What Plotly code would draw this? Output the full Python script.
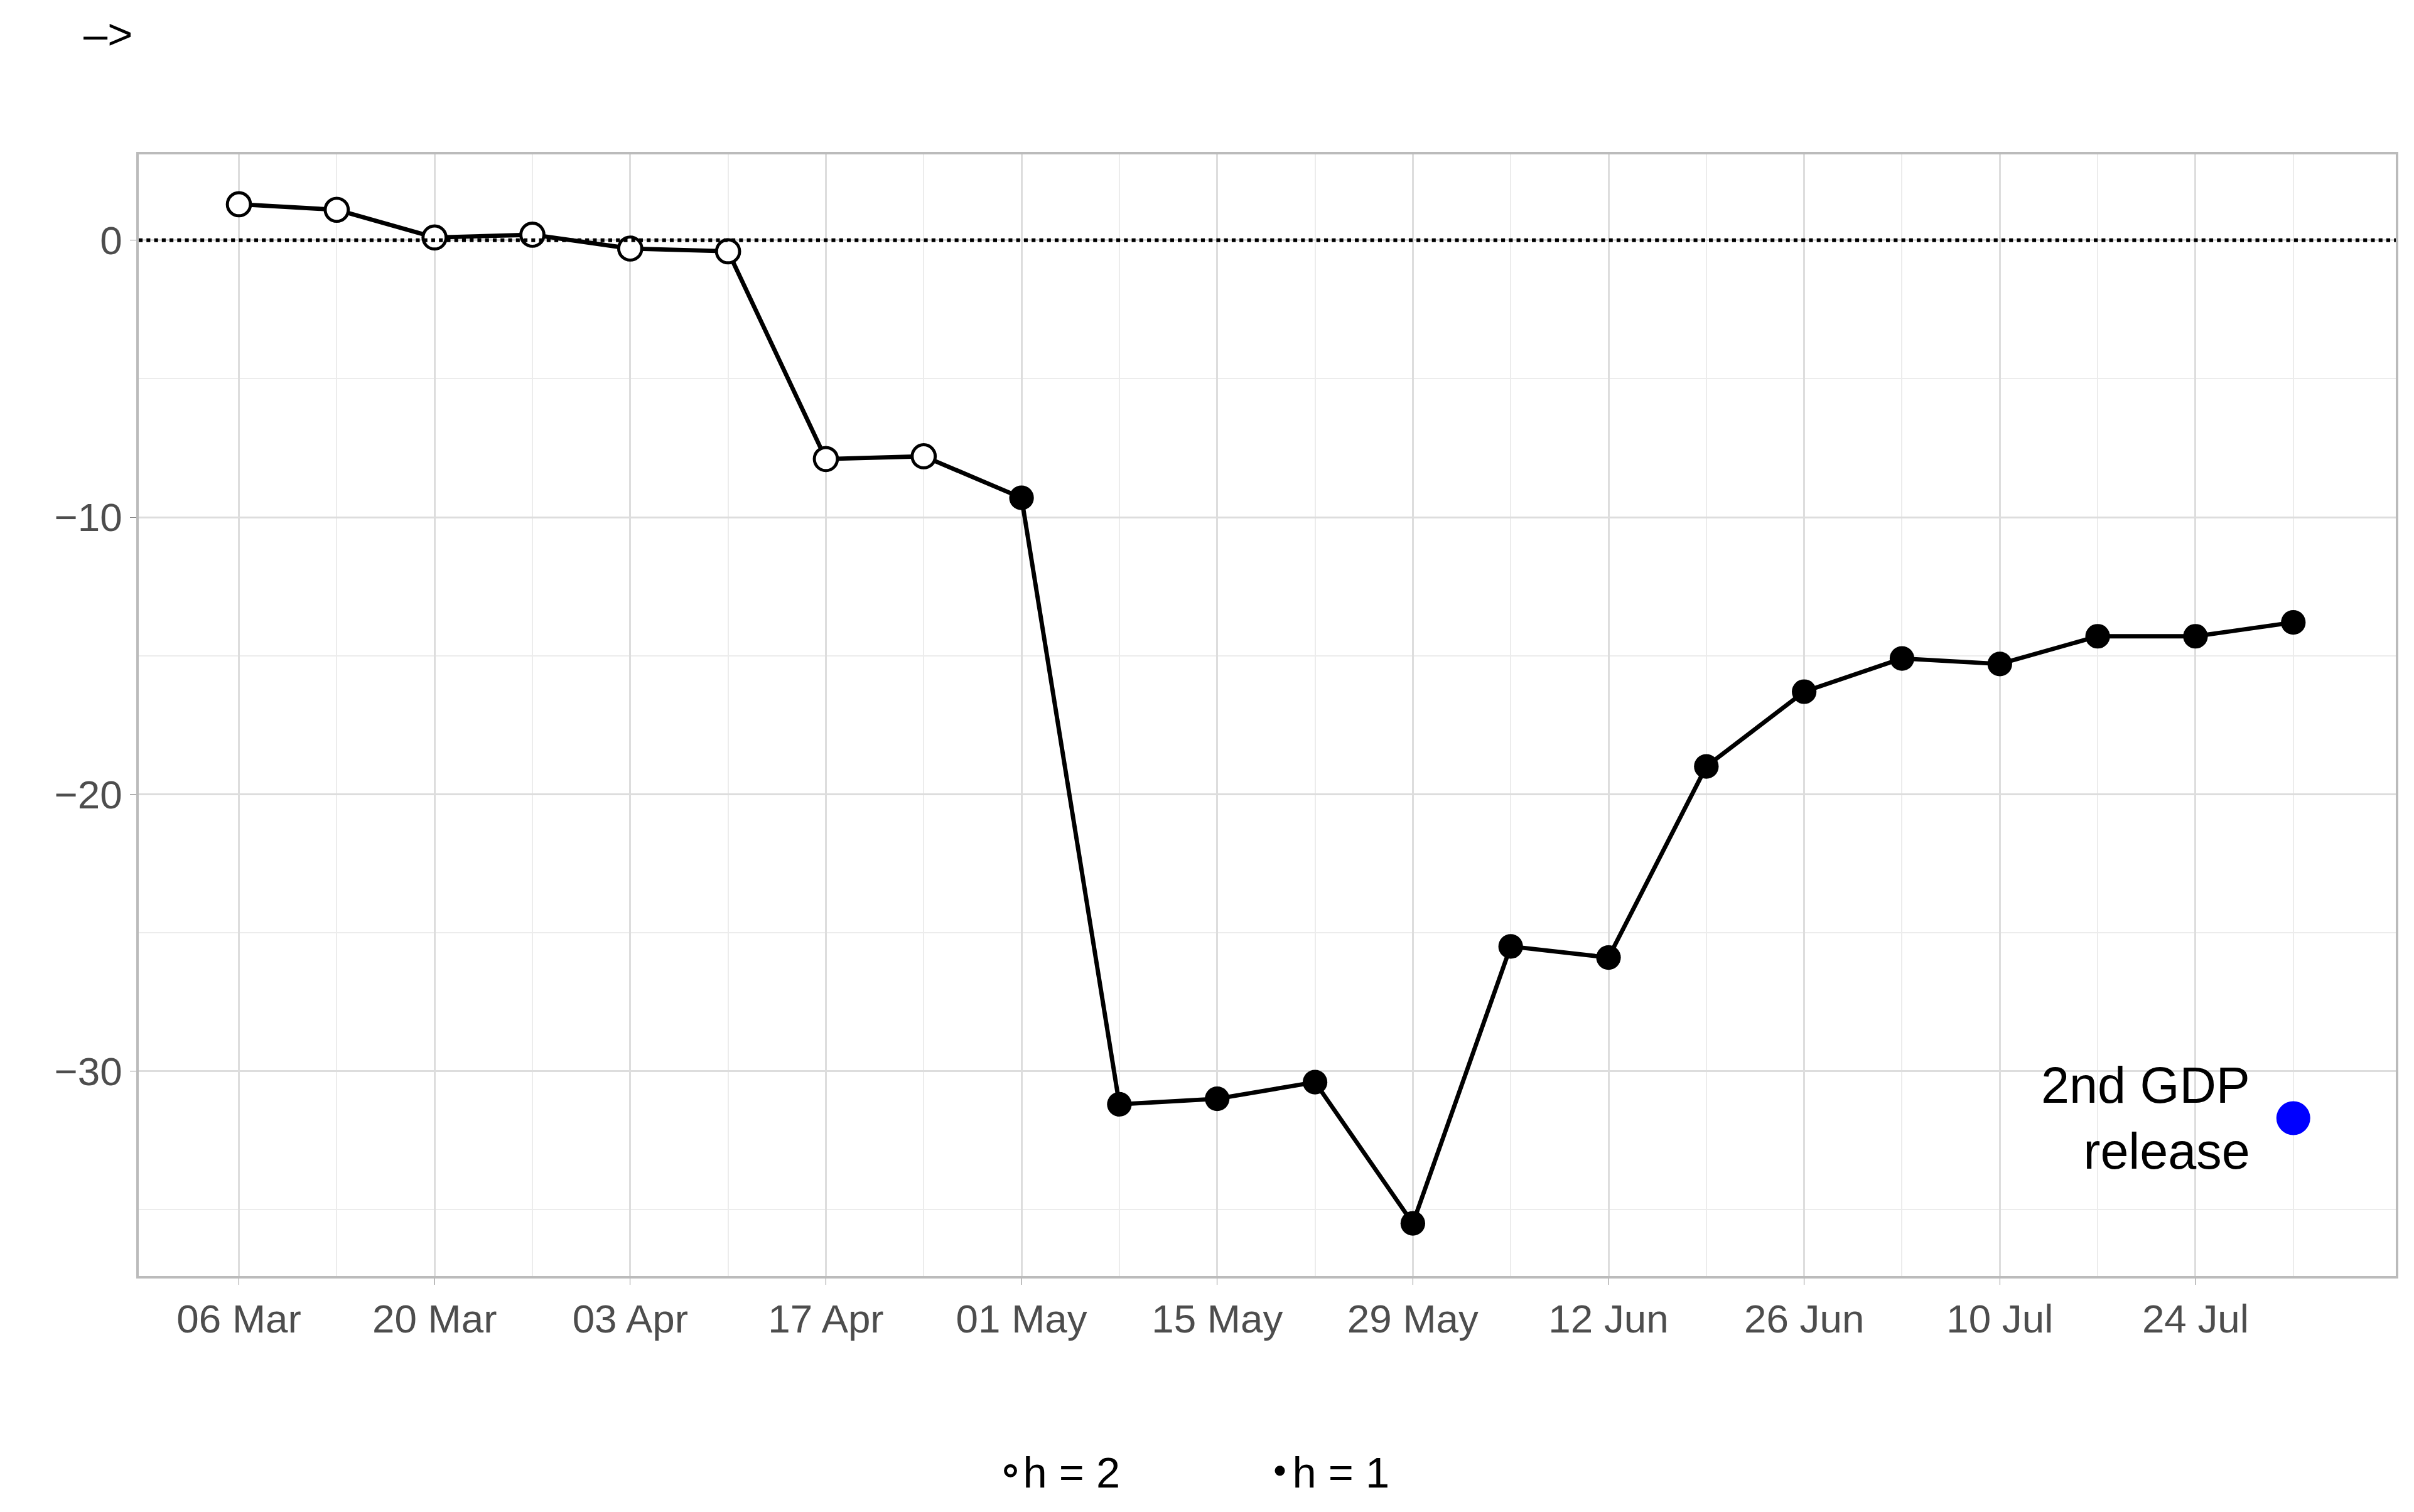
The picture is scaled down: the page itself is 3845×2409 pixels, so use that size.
import plotly.graph_objects as go
import pandas as pd

dates_h2 = ["2020-03-06", "2020-03-13", "2020-03-20", "2020-03-27", "2020-04-03",
            "2020-04-10", "2020-04-17", "2020-04-24"]
vals_h2 = [1.3, 1.1, 0.1, 0.2, -0.3, -0.4, -7.9, -7.8]
dates_h1 = ["2020-05-01", "2020-05-08", "2020-05-15", "2020-05-22", "2020-05-29",
            "2020-06-05", "2020-06-12", "2020-06-19", "2020-06-26", "2020-07-03",
            "2020-07-10", "2020-07-17", "2020-07-24", "2020-07-31"]
vals_h1 = [-9.3, -31.2, -31.0, -30.4, -35.5, -25.5, -25.9, -19.0, -16.3, -15.1,
           -15.3, -14.3, -14.3, -13.8]
gdp_date = ["2020-07-31"]
gdp_val = [-31.7]

S = 2.452
FONT = "Liberation Sans, Arial, sans-serif"

fig = go.Figure()
# connecting line across both horizons
fig.add_trace(go.Scatter(x=dates_h2 + dates_h1, y=vals_h2 + vals_h1, mode="lines",
                         line=dict(color="black", width=2.8 * S), showlegend=False))
fig.add_trace(go.Scatter(x=dates_h2, y=vals_h2, mode="markers", name="h = 2",
                         marker=dict(symbol="circle", size=15 * S, color="white",
                                     line=dict(width=2 * S, color="black"))))
fig.add_trace(go.Scatter(x=dates_h1, y=vals_h1, mode="markers", name="h = 1",
                         marker=dict(symbol="circle", size=16 * S, color="black")))
fig.add_trace(go.Scatter(x=gdp_date, y=gdp_val, mode="markers", showlegend=False,
                         marker=dict(symbol="circle", size=22 * S, color="#0000ff")))

fig.add_hline(y=0, line=dict(color="black", width=2.5 * S, dash="dot"))

fig.add_annotation(x="2020-07-28", y=-31.7, text="2nd GDP<br>   release", showarrow=False,
                   xanchor="right", yanchor="middle", align="right",
                   font=dict(family=FONT, size=33 * S, color="black"))
fig.add_annotation(xref="paper", yref="paper", x=-0.025, y=1.13, text="–>", showarrow=False,
                   xanchor="left", font=dict(family=FONT, size=28 * S, color="black"))

fig.update_layout(
    width=3845, height=2409,
    paper_bgcolor="white", plot_bgcolor="white",
    margin=dict(l=213, r=37, t=238, b=384),
    font=dict(family=FONT, size=26 * S, color="#4d4d4d"),
    legend=dict(orientation="h", x=0.5, xanchor="center", y=-0.145, yanchor="top",
                font=dict(size=28 * S, color="black"), itemsizing="trace",
                itemwidth=30, entrywidth=160 * S / 2.452 * 2.4, entrywidthmode="pixels"),
)
fig.update_xaxes(
    range=["2020-02-27 20:00", "2020-08-07 08:00"],
    tickvals=pd.date_range("2020-03-06", "2020-07-24", freq="14D"),
    tickformat="%d %b", ticks="outside", ticklen=4 * S, tickcolor="#888",
    showgrid=True, gridcolor="#dddddd", gridwidth=1.2 * S,
    minor=dict(tickvals=pd.date_range("2020-03-13", "2020-07-31", freq="14D"),
               showgrid=True, gridcolor="#ececec", gridwidth=0.8 * S),
    showline=True, linecolor="#bbbbbb", linewidth=1.5 * S, mirror=True, zeroline=False,
)
fig.update_yaxes(
    range=[-37.4, 3.1], tickvals=[0, -10, -20, -30], ticks="outside",
    ticklen=4 * S, tickcolor="#888",
    showgrid=True, gridcolor="#dddddd", gridwidth=1.2 * S,
    minor=dict(tickvals=[-35, -25, -15, -5], showgrid=True, gridcolor="#ececec",
               gridwidth=0.8 * S),
    showline=True, linecolor="#bbbbbb", linewidth=1.5 * S, mirror=True, zeroline=False,
)

fig.write_html("out.html")
